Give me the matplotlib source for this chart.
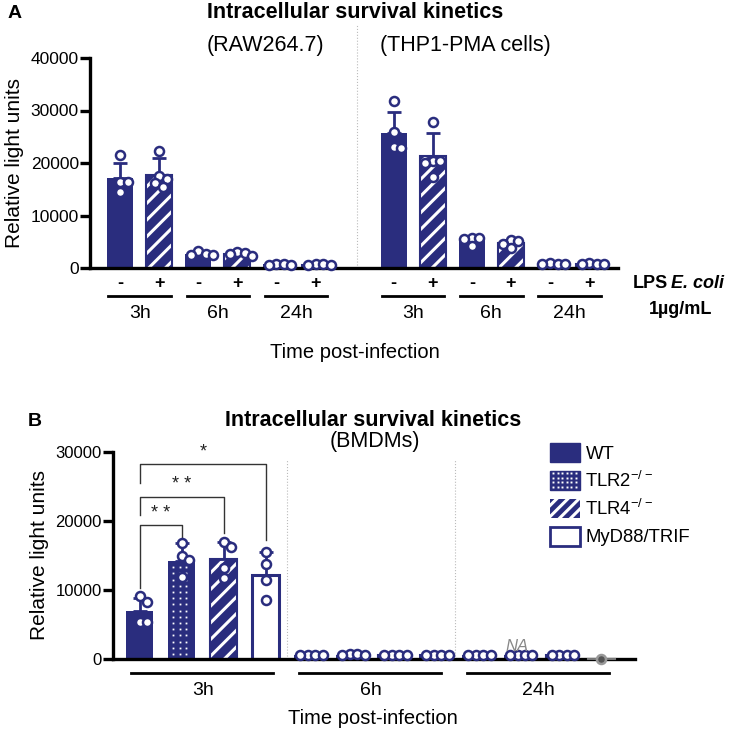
import numpy as np
import matplotlib
matplotlib.use('Agg')
import matplotlib.pyplot as plt
from matplotlib.patches import Patch
from matplotlib.lines import Line2D
from matplotlib.transforms import IdentityTransform

plt.rcParams['font.family'] = ['Liberation Sans', 'DejaVu Sans']
plt.rcParams['hatch.linewidth'] = 2.2

NAVY = '#2a2d7e'

# ---- Panel A data (RAW264.7 and THP1-PMA cells, LPS -/+ at 3h, 6h, 24h) ----
lps_labels = ['-', '+', '-', '+', '-', '+']
time_labels = ['3h', '6h', '24h']

raw_mean = [17100, 17700, 2600, 2700, 700, 650]
raw_sd = [2900, 3300, 400, 400, 100, 100]
raw_pts = [[21500, 16400, 16300, 14500],
           [22300, 17500, 17000, 16200, 15500],
           [3300, 2700, 2500, 2400],
           [3100, 2900, 2700, 2300],
           [800, 700, 650, 600],
           [750, 700, 600, 550]]

thp_mean = [25800, 21300, 5300, 4700, 800, 800]
thp_sd = [3900, 4400, 600, 600, 100, 100]
thp_pts = [[31800, 25900, 23100, 22900],
           [27800, 20400, 20400, 20000, 17300],
           [5700, 5700, 5500, 4100],
           [5300, 5200, 4600, 3800],
           [900, 800, 750, 700],
           [900, 850, 750, 700]]

# ---- Panel B data (BMDMs, 4 genotypes at 3h, 6h, 24h) ----
genotypes = ['WT', 'TLR2$^{\\mathregular{-/-}}$', 'TLR4$^{\\mathregular{-/-}}$', 'MyD88/TRIF']
bm_mean = [6900, 14200, 14500, 12200,
           600, 650, 600, 600,
           600, 600, 600, 0]
bm_sd = [1900, 2600, 2500, 3300,
         100, 100, 100, 100,
         100, 100, 100, 0]
bm_pts = [[9200, 8300, 5300, 5300],
          [16800, 14900, 14300, 11900],
          [17000, 16200, 13200, 11700],
          [15500, 13800, 11400, 8500],
          [650, 600, 550, 600],
          [700, 750, 650, 600],
          [600, 550, 650, 600],
          [650, 600, 600, 650],
          [600, 650, 600, 600],
          [650, 600, 600, 650],
          [600, 650, 600, 600],
          [0]]
# brackets: (bar i, bar j, label, bracket level, left drop, right drop)
sig = [(0, 1, '* *', 19400, 10300, 17700),
       (0, 2, '* *', 23500, 20900, 18300),
       (0, 3, '*', 28300, 25500, 17200)]


def fx(x):
    return x / 729


def fy(y):
    return 1 - y / 730


def swarm(vals, xpu, ypu, d=7.5):
    # simple beeswarm: place each point as near the centre as it can go
    placed = []
    offs = []
    cands = [0]
    for k in range(1, 8):
        cands += [k * d / 2, -k * d / 2]
    for v in vals:
        yp = v * ypu
        for c in cands:
            if all((c - px) ** 2 + (yp - py) ** 2 >= d ** 2 for px, py in placed):
                break
        placed.append((c, yp))
        offs.append(c / xpu)
    return offs


def dot_grid(x0, x1, y0, y1, step):
    gx = np.arange(x0 + step / 2, x1 - step / 4, step)
    gy = np.arange(y0 + step / 2, y1 - step / 4, step)
    X, Y = np.meshgrid(gx, gy)
    return X.ravel(), Y.ravel()


def draw_bar(ax, x, mean, sd, pts, style, width, xpu, ypu, color=NAVY):
    if style == 'solid':
        ax.bar(x, mean, width, color=color, lw=0, zorder=2)
    elif style == 'hatch':
        ax.bar(x, mean, width, color=color, edgecolor='white', lw=0, hatch='//', zorder=2)
        ax.bar(x, mean, width, fill=False, edgecolor=color, lw=1.5, zorder=2)
    elif style == 'dots':
        ax.bar(x, mean, width, color=color, lw=0, zorder=2)
        # small white dots on a 6 px grid inside the bar
        wpx = width * xpu
        hpx = mean * ypu
        if hpx > 8:
            dx, dy = dot_grid(-wpx / 2 + 2, wpx / 2 - 2, 2, hpx - 2, 6.2)
            ax.plot(x + dx / xpu, dy / ypu, 's', color='white', ms=1.3, mew=0,
                    ls='none', zorder=2.5)
    else:
        ax.bar(x, mean, width, facecolor='white', edgecolor=color, lw=2.2, zorder=2)
    if sd > 0:
        ax.errorbar(x, mean, yerr=[[0], [sd]], fmt='none', ecolor=color,
                    elinewidth=2, capsize=5, capthick=2, zorder=3)
    offs = swarm(pts, xpu, ypu)
    ax.plot(x + np.array(offs), pts, 'o', mfc='white', mec=color, ms=6.5,
            mew=1.8, ls='none', zorder=4, clip_on=False)


def style_axes(ax, ymax):
    for s in ['top', 'right']:
        ax.spines[s].set_visible(False)
    ax.spines['left'].set_linewidth(2.4)
    ax.spines['bottom'].set_linewidth(2.4)
    ax.spines['left'].set_bounds(0, ymax)
    ax.set_xticks([])
    ax.tick_params(axis='y', length=7, width=2.4, labelsize=12.5, pad=1)
    ax.set_ylabel('Relative light units', fontsize=15, labelpad=5)


fig = plt.figure(figsize=(7.29, 7.30), dpi=100)

# ================= Panel A =================
axA = fig.add_axes([fx(90), fy(268), (618 - 90) / 729, (268 - 58) / 730])
axA.set_ylim(0, 40000)
axA.set_xlim(-0.77, 12.74)
axA.set_yticks([0, 10000, 20000, 30000, 40000])
style_axes(axA, 40000)
xpuA, ypuA = 39, 52.5 / 10000

for start, means, sds, pts in [(0, raw_mean, raw_sd, raw_pts), (7, thp_mean, thp_sd, thp_pts)]:
    for i in range(6):
        draw_bar(axA, start + i, means[i], sds[i], pts[i],
                 'solid' if i % 2 == 0 else 'hatch', 0.67, xpuA, ypuA)
        axA.text(start + i, -0.075, lps_labels[i], transform=axA.get_xaxis_transform(),
                 ha='center', va='center', fontsize=13, fontweight='bold')
    for g in range(3):
        p = start + 2 * g
        axA.plot([p - 0.3, p + 1.3], [-0.133, -0.133], color='black', lw=2,
                 transform=axA.get_xaxis_transform(), clip_on=False)
        axA.text(p + 0.5, -0.215, time_labels[g], transform=axA.get_xaxis_transform(),
                 ha='center', va='center', fontsize=14)

axA.axvline(6.05, ymin=0, ymax=1.157, color='#bbbbbb', lw=0.8, ls=':', clip_on=False)

fig.text(fx(8), fy(13), 'A', fontsize=14, fontweight='bold', ha='left', va='center')
fig.text(fx(355), fy(13), 'Intracellular survival kinetics', fontsize=15.5,
         fontweight='bold', ha='center', va='center')
fig.text(fx(265), fy(46), '(RAW264.7)', fontsize=15.5, ha='center', va='center')
fig.text(fx(465), fy(46), '(THP1-PMA cells)', fontsize=15.5, ha='center', va='center')
fig.text(fx(633), fy(284), 'LPS', fontsize=13, fontweight='bold', ha='left', va='center')
fig.text(fx(671), fy(284), 'E. coli', fontsize=13, fontweight='bold', style='italic',
         ha='left', va='center')
fig.text(fx(681), fy(309), '1µg/mL', fontsize=13, fontweight='bold', ha='center', va='center')
fig.text(fx(355), fy(352), 'Time post-infection', fontsize=14.5, ha='center', va='center')

# ================= Panel B =================
axB = fig.add_axes([fx(113), fy(659), (635 - 113) / 729, (659 - 452) / 730])
axB.set_ylim(0, 30000)
axB.set_xlim(-0.64, 11.8)
axB.set_yticks([0, 10000, 20000, 30000])
style_axes(axB, 30000)
axB.tick_params(axis='y', labelsize=12)
xpuB, ypuB = 42, 69 / 10000
styles = ['solid', 'dots', 'hatch', 'open']

for i in range(12):
    if i == 11:
        # MyD88/TRIF at 24h: single grey point
        axB.plot([i - 0.32, i + 0.32], [bm_mean[i]] * 2, color='#777777', lw=1.5,
                 zorder=3, clip_on=False)
        axB.plot([i], bm_pts[i], 'o', mfc='#555555', mec='#999999', ms=6.5, mew=1.8,
                 zorder=4, clip_on=False)
        continue
    draw_bar(axB, i, bm_mean[i], bm_sd[i], bm_pts[i], styles[i % 4], 0.64, xpuB, ypuB)

axB.text(9, 700, 'NA', color='#888888', fontsize=12, style='italic', ha='center',
         va='bottom', zorder=5)

for xv in [3.5, 7.5]:
    axB.axvline(xv, ymin=0, ymax=0.96, color='#bbbbbb', lw=0.8, ls=':')

for g in range(3):
    p = 4 * g
    axB.plot([p - 0.2, p + 3.17], [-0.068, -0.068], color='black', lw=2,
             transform=axB.get_xaxis_transform(), clip_on=False)
    axB.text(p + 1.5, -0.15, time_labels[g], transform=axB.get_xaxis_transform(),
             ha='center', va='center', fontsize=14)

for i, j, lab, lev, dl, dr in sig:
    axB.plot([i, i, j, j], [dl, lev, lev, dr], color='#333333', lw=1, zorder=3)
    axB.text((i + j) / 2, lev + 500, lab, ha='center', va='bottom', fontsize=13,
             color='#222222')

handles = [Patch(facecolor=NAVY, edgecolor=NAVY, label=genotypes[0]),
           Patch(facecolor=NAVY, edgecolor=NAVY, label=genotypes[1]),
           Patch(facecolor=NAVY, edgecolor='white', hatch='///', lw=0, label=genotypes[2]),
           Patch(facecolor='white', edgecolor=NAVY, lw=2, label=genotypes[3])]
leg = fig.legend(handles=handles, loc='upper left', bbox_to_anchor=(fx(550), fy(443)),
                 frameon=False, fontsize=13.3, handlelength=1.62, handleheight=1.2,
                 labelspacing=0.43, handletextpad=0.3, borderpad=0, borderaxespad=0)

fig.text(fx(28), fy(421), 'B', fontsize=14, fontweight='bold', ha='left', va='center')
fig.text(fx(373), fy(420), 'Intracellular survival kinetics', fontsize=15.5,
         fontweight='bold', ha='center', va='center')
fig.text(fx(375), fy(441), '(BMDMs)', fontsize=15.5, ha='center', va='center')
fig.text(fx(373), fy(719), 'Time post-infection', fontsize=14.5, ha='center', va='center')

# white dots on the TLR2 legend swatch (needs the drawn legend position)
fig.canvas.draw()
renderer = fig.canvas.get_renderer()
bb = leg.get_patches()[1].get_window_extent(renderer)
lx, ly = dot_grid(bb.x0 + 1, bb.x1 - 1, bb.y0 + 1, bb.y1 - 1, 4.5)
dots = Line2D(lx, ly, marker='s', color='white', ms=1.4, mew=0, ls='none',
              transform=IdentityTransform(), zorder=10)
fig.add_artist(dots)
dots.set_transform(IdentityTransform())

fig.savefig('out.png', dpi=100)
